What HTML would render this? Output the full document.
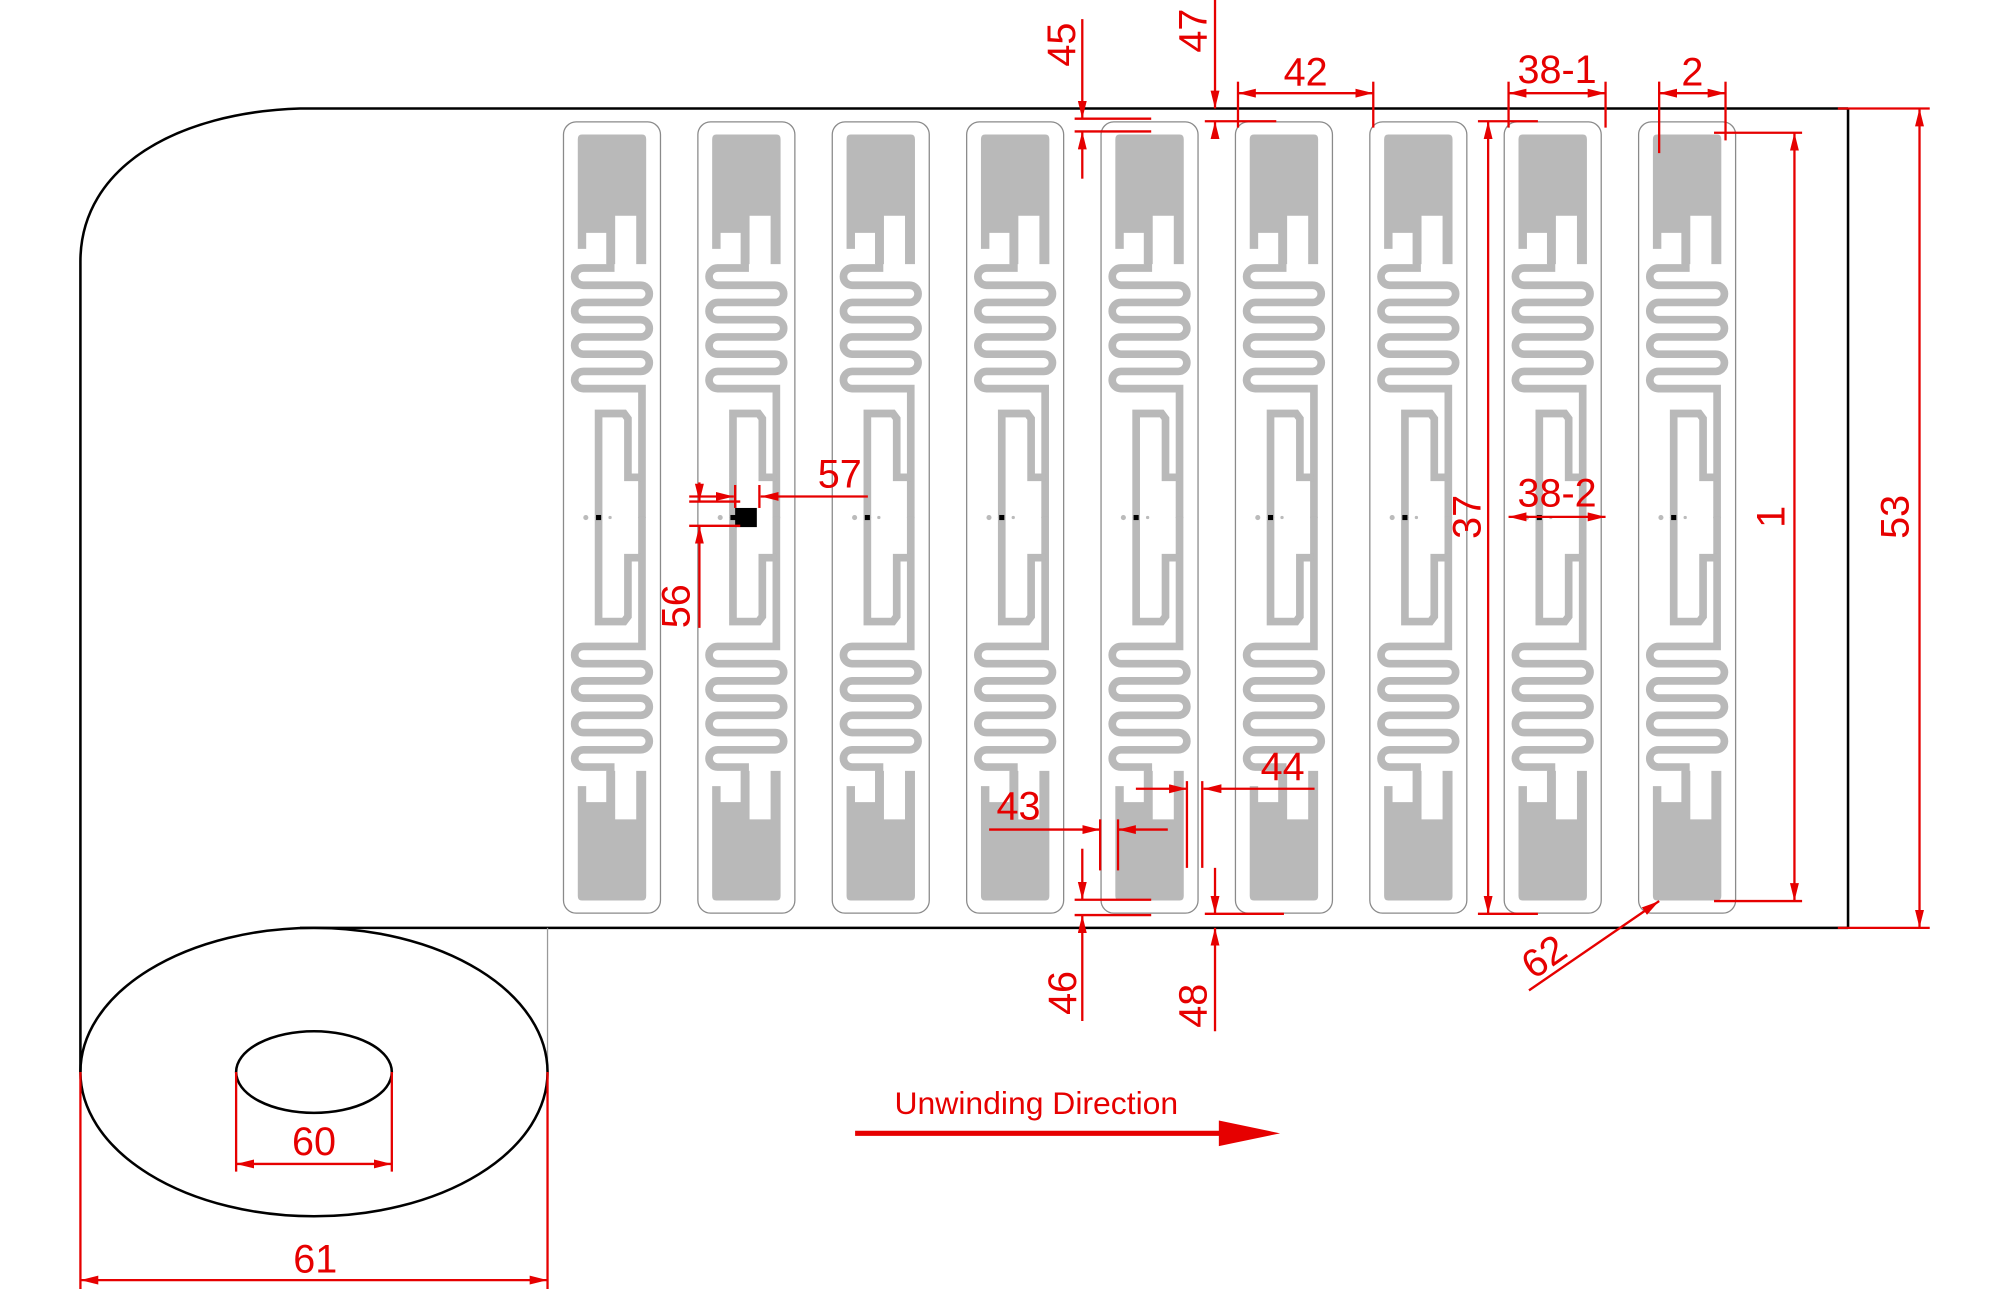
<!DOCTYPE html>
<html><head><meta charset="utf-8"><style>
html,body{margin:0;padding:0;background:#fff;}
svg{display:block;}
text{font-family:"Liberation Sans",sans-serif;fill:#e60000;}
</style></head><body>
<svg width="1991" height="1312" viewBox="0 0 1560 1028" xmlns="http://www.w3.org/2000/svg">
<defs>
<marker id="ar" markerUnits="userSpaceOnUse" markerWidth="16" markerHeight="8" refX="14" refY="3.5" orient="auto-start-reverse">
<path d="M0,0 L14,3.5 L0,7 z" fill="#e60000"/>
</marker>
<g id="half">
<path d="M11.7 14 Q11.7 10.4 15 10.4 H62 Q65.3 10.4 65.3 14 V112 H57.5 V74 H41 V112 H34 V87.5 H18.3 V100 H11.7 Z" fill="#b9b9b9"/>
<path d="M37.5 108 V115 H16 A6.75 6.75 0 0 0 16 128.5 H61 A6.75 6.75 0 0 1 61 142 H16 A6.75 6.75 0 0 0 16 155.5 H61 A6.75 6.75 0 0 1 61 169 H16 A6.75 6.75 0 0 0 16 182.5 H61 A6.75 6.75 0 0 1 61 196 H16 A6.75 6.75 0 0 0 16 209.5 H62 V311" fill="none" stroke="#b9b9b9" stroke-width="6"/>
<path d="M28 311 V229 H48 L51 233 V279 H62" fill="none" stroke="#b9b9b9" stroke-width="6"/>
</g>
<g id="tag">
<rect x="0.5" y="0.5" width="76" height="620" rx="10" fill="none" stroke="#8a8a8a" stroke-width="1"/>
<use href="#half"/>
<use href="#half" transform="translate(0,621) scale(1,-1)"/>
<circle cx="18" cy="310.5" r="2" fill="#bbb"/>
<circle cx="37" cy="310.5" r="1.3" fill="#bbb"/>
<rect x="26" y="308.5" width="4" height="4" fill="#000"/>
</g>
</defs>

<path d="M1448 85 H235 C140 88 63 130 63 205 V840" fill="none" stroke="#000" stroke-width="2"/>
<line x1="235" y1="727" x2="1448" y2="727" stroke="#000" stroke-width="2"/>
<line x1="1448" y1="85" x2="1448" y2="727" stroke="#000" stroke-width="2"/>
<line x1="429" y1="727" x2="429" y2="840" stroke="#999" stroke-width="1"/>
<ellipse cx="246" cy="840" rx="183" ry="113" fill="none" stroke="#000" stroke-width="2"/>
<ellipse cx="246" cy="840" rx="61" ry="32" fill="none" stroke="#000" stroke-width="2"/>

<use href="#tag" x="441" y="95"/>
<use href="#tag" x="546.3" y="95"/>
<use href="#tag" x="651.6" y="95"/>
<use href="#tag" x="756.9" y="95"/>
<use href="#tag" x="862.2" y="95"/>
<use href="#tag" x="967.5" y="95"/>
<use href="#tag" x="1072.8" y="95"/>
<use href="#tag" x="1178.1" y="95"/>
<use href="#tag" x="1283.4" y="95"/>
<rect x="576" y="398" width="17" height="15" fill="#000"/>

<g stroke="#e60000" stroke-width="1.8" fill="none">
<line x1="848" y1="15" x2="848" y2="93" marker-end="url(#ar)"/>
<line x1="848" y1="140" x2="848" y2="103" marker-end="url(#ar)"/>
<line x1="842" y1="93" x2="902" y2="93"/>
<line x1="842" y1="103" x2="902" y2="103"/>
<line x1="952" y1="0" x2="952" y2="85" marker-end="url(#ar)"/>
<line x1="952" y1="108" x2="952" y2="95" marker-end="url(#ar)"/>
<line x1="944" y1="95" x2="1000" y2="95"/>
<line x1="970" y1="64" x2="970" y2="100"/>
<line x1="1076" y1="64" x2="1076" y2="100"/>
<line x1="970" y1="73" x2="1076" y2="73" marker-start="url(#ar)" marker-end="url(#ar)"/>
<line x1="1182" y1="64" x2="1182" y2="100"/>
<line x1="1258" y1="64" x2="1258" y2="100"/>
<line x1="1182" y1="73" x2="1258" y2="73" marker-start="url(#ar)" marker-end="url(#ar)"/>
<line x1="1300" y1="64" x2="1300" y2="120"/>
<line x1="1352" y1="64" x2="1352" y2="110"/>
<line x1="1300" y1="73" x2="1352" y2="73" marker-start="url(#ar)" marker-end="url(#ar)"/>
<line x1="1158" y1="95" x2="1205" y2="95"/>
<line x1="1158" y1="716" x2="1205" y2="716"/>
<line x1="1166" y1="95" x2="1166" y2="716" marker-start="url(#ar)" marker-end="url(#ar)"/>
<line x1="1182" y1="405" x2="1258" y2="405" marker-start="url(#ar)" marker-end="url(#ar)"/>
<line x1="1343" y1="104" x2="1412" y2="104"/>
<line x1="1343" y1="706" x2="1412" y2="706"/>
<line x1="1406" y1="104" x2="1406" y2="706" marker-start="url(#ar)" marker-end="url(#ar)"/>
<line x1="1440" y1="85" x2="1512" y2="85"/>
<line x1="1440" y1="727" x2="1512" y2="727"/>
<line x1="1504" y1="85" x2="1504" y2="727" marker-start="url(#ar)" marker-end="url(#ar)"/>
<line x1="1198" y1="776" x2="1300" y2="706" marker-end="url(#ar)"/>
<line x1="680" y1="389" x2="596" y2="389" marker-end="url(#ar)"/>
<line x1="540" y1="389" x2="575" y2="389" marker-end="url(#ar)"/>
<line x1="576" y1="380" x2="576" y2="398"/>
<line x1="595" y1="380" x2="595" y2="398"/>
<line x1="548" y1="378" x2="548" y2="393" marker-end="url(#ar)"/>
<line x1="548" y1="492" x2="548" y2="412" marker-end="url(#ar)"/>
<line x1="540" y1="393" x2="580" y2="393"/>
<line x1="540" y1="412" x2="580" y2="412"/>
<line x1="775" y1="650" x2="862" y2="650" marker-end="url(#ar)"/>
<line x1="915" y1="650" x2="876" y2="650" marker-end="url(#ar)"/>
<line x1="862" y1="642" x2="862" y2="682"/>
<line x1="876" y1="642" x2="876" y2="682"/>
<line x1="1030" y1="618" x2="943" y2="618" marker-end="url(#ar)"/>
<line x1="890" y1="618" x2="930" y2="618" marker-end="url(#ar)"/>
<line x1="930" y1="612" x2="930" y2="680"/>
<line x1="942" y1="612" x2="942" y2="680"/>
<line x1="848" y1="665" x2="848" y2="705" marker-end="url(#ar)"/>
<line x1="848" y1="800" x2="848" y2="717" marker-end="url(#ar)"/>
<line x1="842" y1="705" x2="902" y2="705"/>
<line x1="842" y1="717" x2="902" y2="717"/>
<line x1="952" y1="680" x2="952" y2="716" marker-end="url(#ar)"/>
<line x1="952" y1="808" x2="952" y2="727" marker-end="url(#ar)"/>
<line x1="944" y1="716" x2="1006" y2="716"/>
<line x1="185" y1="840" x2="185" y2="918"/>
<line x1="307" y1="840" x2="307" y2="918"/>
<line x1="185" y1="912" x2="307" y2="912" marker-start="url(#ar)" marker-end="url(#ar)"/>
<line x1="63" y1="840" x2="63" y2="1010"/>
<line x1="429" y1="840" x2="429" y2="1010"/>
<line x1="63" y1="1003" x2="429" y2="1003" marker-start="url(#ar)" marker-end="url(#ar)"/>
<line x1="670" y1="888" x2="960" y2="888" stroke-width="4"/>
</g>
<path d="M955 878 L1003 888 L955 898 Z" fill="#e60000"/>

<g font-size="31">
<text x="832" y="35" text-anchor="middle" transform="rotate(-90 832 35)" dominant-baseline="central">45</text>
<text x="935" y="24" text-anchor="middle" transform="rotate(-90 935 24)" dominant-baseline="central">47</text>
<text x="1023" y="67" text-anchor="middle">42</text>
<text x="1220" y="65" text-anchor="middle">38-1</text>
<text x="1326" y="67" text-anchor="middle">2</text>
<text x="1150" y="405" text-anchor="middle" transform="rotate(-90 1150 405)" dominant-baseline="central">37</text>
<text x="1220" y="397" text-anchor="middle">38-2</text>
<text x="1388" y="405" text-anchor="middle" transform="rotate(-90 1388 405)" dominant-baseline="central">1</text>
<text x="1485" y="405" text-anchor="middle" transform="rotate(-90 1485 405)" dominant-baseline="central">53</text>
<text x="1210" y="760" text-anchor="middle" transform="rotate(-35 1210 750)">62</text>
<text x="658" y="382" text-anchor="middle">57</text>
<text x="530" y="475" text-anchor="middle" transform="rotate(-90 530 475)" dominant-baseline="central">56</text>
<text x="798" y="642" text-anchor="middle">43</text>
<text x="1005" y="611" text-anchor="middle">44</text>
<text x="833" y="778" text-anchor="middle" transform="rotate(-90 833 778)" dominant-baseline="central">46</text>
<text x="935" y="788" text-anchor="middle" transform="rotate(-90 935 788)" dominant-baseline="central">48</text>
<text x="246" y="905" text-anchor="middle">60</text>
<text x="247" y="997" text-anchor="middle">61</text>
</g>
<text x="812" y="873" text-anchor="middle" font-size="25">Unwinding Direction</text>
</svg>
</body></html>
